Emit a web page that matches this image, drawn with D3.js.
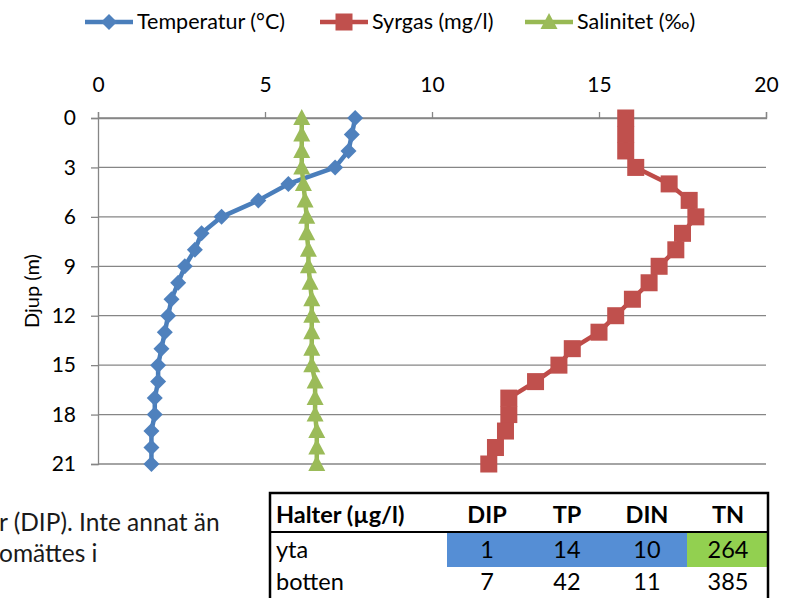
<!DOCTYPE html>
<html><head><meta charset="utf-8">
<script src="https://cdn.jsdelivr.net/npm/d3@7"></script>
<style>
html,body{margin:0;padding:0;background:#fff;}
svg{display:block;}
</style></head>
<body>
<svg id="chart" width="797" height="598"></svg>
<script>
// ---- data ----
const depths = [0,1,2,3,4,5,6,7,8,9,10,11,12,13,14,15,16,17,18,19,20,21];
const temperature = [7.7,7.6,7.5,7.1,5.7,4.8,3.7,3.1,2.9,2.6,2.4,2.2,2.1,2.0,1.9,1.8,1.8,1.7,1.7,1.6,1.6,1.6];
const oxygen = [15.8,15.8,15.8,16.1,17.1,17.7,17.9,17.5,17.3,16.8,16.5,16.0,15.5,15.0,14.2,13.8,13.1,12.3,12.3,12.2,11.9,11.7];
const salinity = [6.1,6.1,6.1,6.1,6.15,6.2,6.25,6.25,6.3,6.3,6.35,6.4,6.4,6.4,6.4,6.4,6.5,6.5,6.5,6.55,6.55,6.55];
const seriesNames = ["Temperatur (°C)","Syrgas (mg/l)","Salinitet (‰)"];
const xTicks = [0,5,10,15,20];
const yTicks = [0,3,6,9,12,15,18,21];
const yLabel = "Djup (m)";
const tableHeader = ["Halter (µg/l)","DIP","TP","DIN","TN"];
const tableRowNames = ["yta","botten"];
const tableValues = [[1,14,10,264],[7,42,11,385]];
const sideText = ["r (DIP). Inte annat än","omättes i"];

// ---- styles ----
const FONT = "Lato, 'Liberation Sans', sans-serif";
const svg = d3.select("#chart");
const x = d3.scaleLinear().domain([0,20]).range([98,766]);
const y = d3.scaleLinear().domain([0,21]).range([118,464]);
const gridCol = "#868686";

// gridlines
svg.append("g").selectAll("line").data(yTicks).join("line")
  .attr("x1", x(0)).attr("x2", x(20))
  .attr("y1", d=>y(d)).attr("y2", d=>y(d))
  .attr("stroke", gridCol).attr("stroke-width", 1.3);

// top axis
const xAxis = d3.axisTop(x).tickValues(xTicks).tickSize(6).tickPadding(20);
const gx = svg.append("g").attr("transform",`translate(0,${y(0)})`).call(xAxis);
gx.select(".domain").attr("stroke", gridCol).attr("stroke-width",1.3);
gx.selectAll(".tick line").attr("stroke", gridCol).attr("stroke-width",1.3);
gx.selectAll("text").attr("font-family",FONT).attr("font-size",21).attr("fill","#000");

// left axis
const yAxis = d3.axisLeft(y).tickValues(yTicks).tickSize(7).tickPadding(15);
const gy = svg.append("g").attr("transform",`translate(${x(0)},0)`).call(yAxis);
gy.select(".domain").attr("stroke", gridCol).attr("stroke-width",1.3);
gy.selectAll(".tick line").attr("stroke", gridCol).attr("stroke-width",1.3);
gy.selectAll("text").attr("font-family",FONT).attr("font-size",21).attr("fill","#000");

svg.append("text").attr("transform",`translate(39,${(y(0)+y(21))/2}) rotate(-90)`)
  .attr("text-anchor","middle").attr("font-family",FONT).attr("font-size",20).text(yLabel);

// series
const series = [
  {name:seriesNames[0], values:temperature, line:"#4A7EBB", fill:"#4F81BD", shape:"diamond"},
  {name:seriesNames[1], values:oxygen, line:"#BE4B48", fill:"#C0504D", shape:"square"},
  {name:seriesNames[2], values:salinity, line:"#98B954", fill:"#9BBB59", shape:"triangle"}
];
function marker(g, shape, fill){
  if(shape==="diamond") g.append("path").attr("d","M0,-8L8,0L0,8L-8,0Z").attr("fill",fill);
  else if(shape==="square") g.append("rect").attr("x",-8.5).attr("y",-8.5).attr("width",17).attr("height",17).attr("fill",fill);
  else g.append("path").attr("d","M0,-9L8.5,7L-8.5,7Z").attr("fill",fill);
}
const line = d3.line().x(d=>x(d[0])).y(d=>y(d[1]));
series.forEach(s=>{
  const pts = s.values.map((v,i)=>[v,depths[i]]);
  const g = svg.append("g");
  g.append("path").attr("d", line(pts)).attr("fill","none").attr("stroke",s.line)
    .attr("stroke-width",4.5).attr("stroke-linejoin","round").attr("stroke-linecap","round");
  pts.forEach(p=>{
    marker(g.append("g").attr("transform",`translate(${x(p[0])},${y(p[1])})`), s.shape, s.fill);
  });
});

// legend
const legX = [85,320,525];
series.forEach((s,i)=>{
  const g = svg.append("g").attr("transform",`translate(${legX[i]},22)`);
  g.append("line").attr("x1",0).attr("x2",48).attr("stroke",s.line).attr("stroke-width",4.5);
  marker(g.append("g").attr("transform","translate(24,0)"), s.shape, s.fill);
  g.append("text").attr("x",52).attr("y",7).attr("font-family",FONT).attr("font-size",21.5).text(s.name);
});

// side text
sideText.forEach((t,i)=>{
  svg.append("text").attr("x",-1).attr("y",531+i*31).attr("font-family",FONT).attr("font-size",24.5)
    .attr("fill","#1a1a1a").text(t);
});

// table
const tL=270, tR=768, tT=493, hB=532, r1B=567;
const colC=[487,567,647,728];
const FS=23.5;
const tbl = svg.append("g");
tbl.append("rect").attr("x",447).attr("y",hB).attr("width",687-447).attr("height",r1B-hB).attr("fill","#558ED5");
tbl.append("rect").attr("x",687).attr("y",hB).attr("width",tR-687).attr("height",r1B-hB).attr("fill","#92D050");
tbl.append("path").attr("d",`M${tL},605V${tT}H${tR}V605`).attr("fill","none").attr("stroke","#000").attr("stroke-width",2.5);
tbl.append("line").attr("x1",tL).attr("x2",tR).attr("y1",hB).attr("y2",hB).attr("stroke","#000").attr("stroke-width",2);
tbl.append("text").attr("x",276).attr("y",523).attr("font-family",FONT).attr("font-size",FS).attr("font-weight","bold").text(tableHeader[0]);
tableHeader.slice(1).forEach((h,i)=>{
  tbl.append("text").attr("x",colC[i]).attr("y",523).attr("text-anchor","middle").attr("font-family",FONT)
    .attr("font-size",FS).attr("font-weight","bold").text(h);
});
tableRowNames.forEach((r,ri)=>{
  const yy = 558 + ri*32;
  tbl.append("text").attr("x",276).attr("y",yy).attr("font-family",FONT).attr("font-size",FS).text(r);
  tableValues[ri].forEach((v,ci)=>{
    tbl.append("text").attr("x",colC[ci]).attr("y",yy).attr("text-anchor","middle").attr("font-family",FONT)
      .attr("font-size",FS).text(v);
  });
});
</script>
</body></html>
